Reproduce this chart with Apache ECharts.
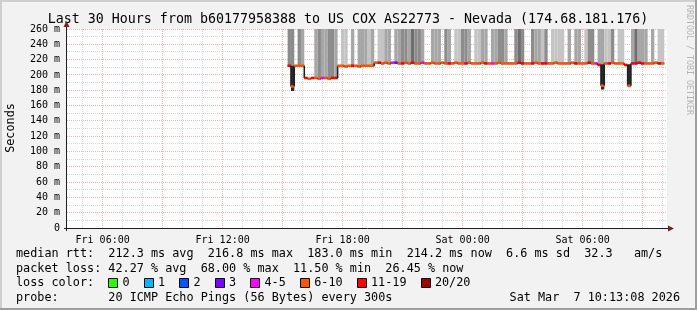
<!DOCTYPE html>
<html><head><meta charset="utf-8">
<script src="https://cdn.jsdelivr.net/npm/echarts@6/dist/echarts.min.js"></script>
<style>html,body{margin:0;padding:0;background:#f2f2f2}#c{width:697px;height:310px}</style>
</head><body><div id="c"></div>
<script>
// ---------- data ----------
const titleText = 'Last 30 Hours from b60177958388 to US COX AS22773 - Nevada (174.68.181.176)';
const yAxisName = 'Seconds';
const yTickValues = [0,20,40,60,80,100,120,140,160,180,200,220,240,260];
const yMinorGrid = [10,30,50,70,90,110,130,150,170,190,210,230,250];
const yMajorGrid = [20,40,60,80,100,120,140,160,180,200,220,240,260];
const xLabelHours = [6,12,18,24,30];
const xLabelText = ['Fri 06:00','Fri 12:00','Fri 18:00','Sat 00:00','Sat 06:00'];
const xMinorGrid = [5,7,8,10,11,13,14,16,17,19,20,22,23,25,26,28,29,31,32,34];
const xMajorGrid = [6,9,12,15,18,21,24,27,30,33];
const axisStartHour = 4 + 13/60 + 8/3600;   // Fri 04:13:08
const axisSpanHours = 30;
const firstSlotHour = 15.25;                // Fri 15:15
const slotHours = 10/60;                    // 10-minute steps

const medianRtt = [
 212,185,212,212,212,196,195,196,196,195,
 196,196,195,196,196,212,212,211,212,212,
 212,211,212,212,212,212,216,216,215,216,
 215,216,216,215,215,216,215,216,215,215,
 216,215,215,216,215,215,216,215,215,215,
 216,215,215,215,216,215,215,215,216,215,
 215,215,215,216,215,215,215,215,215,216,
 215,215,215,215,216,215,215,215,215,215,
 216,215,215,215,215,216,215,215,215,215,
 216,215,215,213,186,215,215,216,215,215,
 215,213,186,215,215,216,215,215,215,215,
 216,215,215
];
// how far the lowest ping sits below the median (ms)
const spreadBelow = [
 1,6,1,1,1,1,1,1,1,1, 1,1,1,1,1,1,1,1,1,1, 1,1,1,1,1,1,1,1,1,1,
 1,1,1,1,1,1,1,1,1,1, 1,1,1,1,1,1,1,1,1,1, 1,1,1,1,1,1,1,1,1,1,
 1,1,1,1,1,1,1,1,1,1, 1,1,1,1,1,1,1,1,1,1, 1,1,1,1,1,1,1,1,1,1,
 1,1,1,1,5,1,1,1,1,1, 1,1,2,1,1,1,1,1,1,1, 1,1,1
];
// top of the dense (dark) smoke band above the median (ms)
const spreadAbove = [
 1,27,1,1,1,1,1,1,1,1, 1,1,1,1,1,1,1,1,1,1, 1,1,1,1,1,1,1,1,1,1,
 1,1,1,1,1,1,1,1,1,1, 1,1,1,1,1,1,1,1,1,1, 1,1,1,1,1,1,1,1,1,1,
 1,1,1,1,1,1,1,1,1,1, 1,1,1,1,1,1,1,1,1,1, 1,1,1,1,1,1,1,1,1,1,
 1,1,1,1,28,1,1,1,1,1, 1,1,28,1,1,1,1,1,1,1, 1,1,1
];
// smoke shade of the pings reaching above the chart (0 = none, 4 = darkest)
const smokeShade = [
 3,3,0,3,2,0,0,0,2,3,
 2,2,3,3,2,0,1,1,0,2,
 0,2,2,2,1,2,0,1,1,2,
 2,0,2,2,3,3,2,4,3,3,
 2,0,0,2,2,2,0,3,2,0,
 1,1,3,3,2,0,1,1,2,2,
 0,2,2,3,3,2,0,0,3,4,
 3,0,0,3,2,2,1,3,0,1,
 1,1,1,0,2,0,2,2,0,1,
 3,3,0,2,2,1,1,3,0,1,
 1,0,0,2,4,2,2,2,0,2,
 0,1,1
];
// loss class per step (index into lossLabels)
const lossClass = [
 6,5,5,5,5,6,5,6,5,5,
 4,5,5,6,6,5,5,5,5,6,
 5,5,5,5,5,5,5,6,5,5,
 5,4,3,5,6,5,5,6,5,5,
 4,5,5,5,5,5,5,5,6,5,
 5,5,5,6,5,5,5,5,5,6,
 5,4,5,5,5,5,5,5,5,6,
 6,5,5,6,5,5,6,6,5,5,
 5,5,5,5,5,5,6,5,5,5,
 6,5,4,6,5,5,6,5,5,5,
 5,6,5,6,6,6,6,5,5,5,
 5,6,5
];
const lossLabels = ['0','1','2','3','4-5','6-10','11-19','20/20'];
const lossColors = ['#26ff00','#00b8ff','#0059ff','#7e00ff','#ff00ff','#ff5500','#ff0000','#a10000'];
const shadeColors = [null,'#c4c4c4','#a6a6a6','#8c8c8c','#6e6e6e'];

const legendLines = [
 'median rtt:  212.3 ms avg  216.8 ms max  183.0 ms min  214.2 ms now  6.6 ms sd  32.3   am/s',
 'packet loss: 42.27 % avg  68.00 % max  11.50 % min  26.45 % now',
 'loss color:',
 'probe:       20 ICMP Echo Pings (56 Bytes) every 300s'
];
const stampText = 'Sat Mar  7 10:13:08 2026';
const watermark = 'RRDTOOL / TOBI OETIKER';

// ---------- layout ----------
const W = 697, H = 310;
const GL = 67, GT = 29, GW = 600, GH = 199;
const MONO = '"DejaVu Sans Mono", "Liberation Mono", monospace';
const CH = 7.1; // legend char advance

// ---------- build rows ----------
const rows = medianRtt.map((m, k) => {
  const t0 = firstSlotHour + k * slotHours;
  return [t0, t0 + slotHours, m, m - spreadBelow[k], m + spreadAbove[k], smokeShade[k], lossClass[k], k > 0 ? medianRtt[k-1] : m];
});

const chart = echarts.init(document.getElementById('c'), null, {renderer: 'canvas'});

function renderSmoke(params, api) {
  const shade = api.value(5);
  if (!shade) return null;
  const a = api.coord([api.value(0), api.value(4)]);
  const b = api.coord([api.value(1), api.value(4)]);
  const top = params.coordSys.y;
  return {type: 'rect', shape: {x: a[0], y: top, width: b[0] - a[0], height: a[1] - top},
          style: {fill: shadeColors[shade]}};
}
function renderDense(params, api) {
  const a = api.coord([api.value(0), api.value(4)]);
  const b = api.coord([api.value(1), api.value(3)]);
  return {type: 'rect', shape: {x: a[0], y: a[1], width: b[0] - a[0], height: b[1] - a[1]},
          style: {fill: '#2a2a2a'}};
}
function renderMedian(params, api) {
  const t0 = api.value(0), t1 = api.value(1), m = api.value(2), prev = api.value(7);
  const a = api.coord([t0, m]), b = api.coord([t1, m]);
  const ch = [];
  if (prev !== m) {
    const c = api.coord([t0, prev]);
    ch.push({type: 'line', shape: {x1: a[0], y1: c[1], x2: a[0], y2: a[1]}, style: {stroke: '#1f1f1f', lineWidth: 1.5}});
  }
  ch.push({type: 'line', shape: {x1: a[0], y1: a[1], x2: b[0], y2: b[1]},
           style: {stroke: lossColors[api.value(6)], lineWidth: 2.6}});
  return {type: 'group', children: ch};
}
function renderVGrid(params, api) {
  const h = api.value(0), major = api.value(1);
  const x = Math.floor(api.coord([h, 0])[0]) + 0.5;
  return {type: 'line', shape: {x1: x, y1: params.coordSys.y, x2: x, y2: params.coordSys.y + params.coordSys.height},
          style: {stroke: major ? 'rgba(222,79,79,0.42)' : 'rgba(143,143,143,0.35)', lineWidth: 1, lineDash: [1,1]}};
}
function renderHGrid(params, api) {
  const v = api.value(0), major = api.value(1);
  const y = Math.floor(api.coord([axisStartHour, v])[1]) + 0.5;
  return {type: 'line', shape: {x1: params.coordSys.x, y1: y, x2: params.coordSys.x + params.coordSys.width, y2: y},
          style: {stroke: major ? 'rgba(222,79,79,0.42)' : 'rgba(143,143,143,0.35)', lineWidth: 1, lineDash: [1,1]}};
}

const vgridData = xMinorGrid.map(h => [h, 0]).concat(xMajorGrid.map(h => [h, 1]));
const hgridData = yMinorGrid.map(v => [v, 0]).concat(yMajorGrid.map(v => [v, 1]));

// graphic decorations
const g = [];
g.push({type: 'rect', shape: {x: 0, y: 0, width: W, height: 2}, style: {fill: '#cfcfcf'}, silent: true});
g.push({type: 'rect', shape: {x: 0, y: 0, width: 2, height: H}, style: {fill: '#cfcfcf'}, silent: true});
g.push({type: 'rect', shape: {x: 0, y: H - 2, width: W, height: 2}, style: {fill: '#9e9e9e'}, silent: true});
g.push({type: 'rect', shape: {x: W - 2, y: 0, width: 2, height: H}, style: {fill: '#9e9e9e'}, silent: true});
g.push({type: 'text', x: 348, y: 19.5, silent: true,
  style: {text: titleText, font: '13.3px ' + MONO, fill: '#000', align: 'center', verticalAlign: 'middle'}});
g.push({type: 'text', x: 11, y: 128, rotation: Math.PI / 2, silent: true,
  style: {text: yAxisName, font: '11.8px ' + MONO, fill: '#000', align: 'center', verticalAlign: 'middle'}});
g.push({type: 'text', x: 689, y: 60, rotation: -Math.PI / 2, silent: true,
  style: {text: watermark, font: '8.3px ' + MONO, fill: '#b4b4b4', align: 'center', verticalAlign: 'middle'}});
// axes lines and arrows
g.push({type: 'line', shape: {x1: GL - 3, y1: GT + GH + 0.5, x2: GL + GW + 4, y2: GT + GH + 0.5}, style: {stroke: '#1f1f1f', lineWidth: 1}, silent: true, z: 10});
g.push({type: 'line', shape: {x1: GL - 0.5, y1: GT + GH + 3, x2: GL - 0.5, y2: GT - 5}, style: {stroke: '#1f1f1f', lineWidth: 1}, silent: true, z: 10});
g.push({type: 'polygon', shape: {points: [[GL + GW + 1, GT + GH - 2.5], [GL + GW + 1, GT + GH + 3.5], [GL + GW + 7, GT + GH + 0.5]]}, style: {fill: '#801f1f'}, silent: true, z: 10});
g.push({type: 'polygon', shape: {points: [[GL - 3.5, GT - 2], [GL + 2.5, GT - 2], [GL - 0.5, GT - 8]]}, style: {fill: '#801f1f'}, silent: true, z: 10});
// legend text
const legendY = [254, 268.5, 283, 297.5];
legendLines.forEach((t, i) => {
  g.push({type: 'text', x: 16, y: legendY[i], silent: true,
    style: {text: t, font: '11.8px ' + MONO, fill: '#000', align: 'left', verticalAlign: 'middle'}});
});
g.push({type: 'text', x: 680, y: legendY[3], silent: true,
  style: {text: stampText, font: '11.8px ' + MONO, fill: '#000', align: 'right', verticalAlign: 'middle'}});
let lx = 16 + 13 * CH;
lossLabels.forEach((lab, i) => {
  g.push({type: 'rect', shape: {x: Math.round(lx) + 0.5, y: legendY[2] - 4.5, width: 9, height: 9},
    style: {fill: lossColors[i], stroke: '#000', lineWidth: 1}, silent: true});
  g.push({type: 'text', x: lx + 2 * CH, y: legendY[2], silent: true,
    style: {text: lab, font: '11.8px ' + MONO, fill: '#000', align: 'left', verticalAlign: 'middle'}});
  lx += (2 + lab.length + 2) * CH;
});

const option = {
  animation: false,
  backgroundColor: '#f2f2f2',
  grid: {left: GL, top: GT, width: GW, height: GH, show: true, backgroundColor: '#ffffff', borderWidth: 0},
  xAxis: {
    type: 'value', min: axisStartHour, max: axisStartHour + axisSpanHours,
    axisLine: {show: false}, axisTick: {show: false}, splitLine: {show: false},
    axisLabel: {customValues: xLabelHours, margin: 7, fontFamily: MONO, fontSize: 10, color: '#000',
      formatter: v => { const i = xLabelHours.indexOf(Math.round(v)); return i >= 0 ? xLabelText[i] : ''; }}
  },
  yAxis: {
    type: 'value', min: 0, max: 260, interval: 20,
    axisLine: {show: false}, axisTick: {show: false}, splitLine: {show: false},
    axisLabel: {margin: 7, fontFamily: MONO, fontSize: 10, color: '#000',
      formatter: v => v === 0 ? '0' : v + ' m'}
  },
  graphic: g,
  series: [
    {type: 'custom', name: 'vgrid', renderItem: renderVGrid, data: vgridData, z: 1, silent: true},
    {type: 'custom', name: 'hgrid', renderItem: renderHGrid, data: hgridData, z: 1, silent: true},
    {type: 'custom', name: 'smoke', renderItem: renderSmoke, data: rows, clip: true, z: 2, silent: true},
    {type: 'custom', name: 'dense', renderItem: renderDense, data: rows, clip: true, z: 4, silent: true},
    {type: 'custom', name: 'median', renderItem: renderMedian, data: rows, clip: true, z: 5, silent: true}
  ]
};
chart.setOption(option);
</script>
</body></html>
